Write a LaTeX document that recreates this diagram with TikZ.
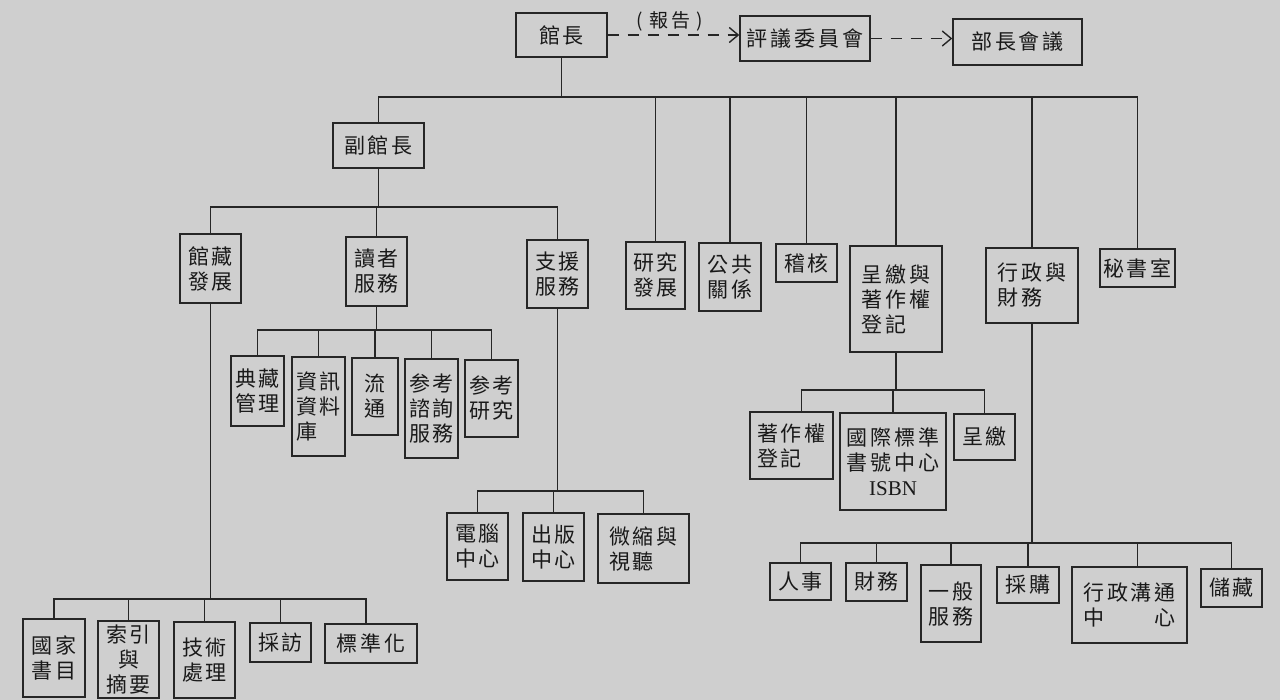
\documentclass[tikz,border=0pt]{standalone}
\usepackage{fontspec}
\setmainfont{Noto Sans CJK TC}[LetterSpace=14]
\newfontfamily\isbnfont{Liberation Serif}
\usetikzlibrary{arrows.meta}
\tikzset{
  unit/.style={draw=black!85, line width=1.4pt, inner sep=0pt, align=left,
    text=black!90, font=\fontsize{21}{25}\selectfont},
  link/.style={draw=black!85, line width=1.4pt},
  report/.style={link, dash pattern=on 11pt off 9pt,
    -{Straight Barb[length=9pt,width=15pt,line width=1.4pt]}}
}
\begin{document}
\begin{tikzpicture}[x=1pt,y=-1pt]
\useasboundingbox (0,0) rectangle (1280,700);
\fill[black!19] (0,0) rectangle (1280,700);

% top row
\node[unit, minimum width=91pt, minimum height=44pt] (gz) at (561.5,35) {館長};
\node[unit, minimum width=130pt, minimum height=45pt] (py) at (805,38.5) {評議委員會};
\node[unit, minimum width=129pt, minimum height=46pt] (bz) at (1017.5,42) {部長會議};
\node[font=\fontsize{19}{21}\selectfont, text=black!90] (bg) at (670,21) {(\,\,報告\,\,)};

% level 2
\node[unit, minimum width=91pt, minimum height=45pt] (fu) at (378.5,145.5) {副館長};
\node[unit, minimum width=59pt, minimum height=67pt] (yj) at (655.5,275.5) {研究\\發展};
\node[unit, minimum width=62pt, minimum height=68pt] (gg) at (730,277) {公共\\關係};
\node[unit, minimum width=61pt, minimum height=38pt] (jh) at (806.5,263) {稽核};
\node[unit, minimum width=92pt, minimum height=106pt] (cj) at (896,299) {呈繳與\\著作權\\登記};
\node[unit, minimum width=92pt, minimum height=75pt] (xz) at (1032,285.5) {行政與\\財務};
\node[unit, minimum width=75pt, minimum height=38pt] (ms) at (1137.5,268) {秘書室};

% under 副館長
\node[unit, minimum width=61pt, minimum height=69pt] (gc) at (210.5,268.5) {館藏\\發展};
\node[unit, minimum width=61pt, minimum height=69pt] (dz) at (376.5,271.5) {讀者\\服務};
\node[unit, minimum width=61pt, minimum height=68pt] (zy) at (557.5,274) {支援\\服務};

% under 讀者服務
\node[unit, minimum width=53pt, minimum height=70pt] (dc) at (257.5,391) {典藏\\管理};
\node[unit, minimum width=53pt, minimum height=99pt] (zx) at (318.5,406.5) {資訊\\資料\\庫};
\node[unit, minimum width=46pt, minimum height=77pt] (lt) at (375,396.5) {流\\通};
\node[unit, minimum width=53pt, minimum height=99pt] (ck) at (431.5,408.5) {参考\\諮詢\\服務};
\node[unit, minimum width=53pt, minimum height=77pt] (cy) at (491.5,398.5) {参考\\研究};

% under 支援服務
\node[unit, minimum width=61pt, minimum height=67pt] (dn) at (477.5,546.5) {電腦\\中心};
\node[unit, minimum width=61pt, minimum height=68pt] (cb) at (553.5,547) {出版\\中心};
\node[unit, minimum width=91pt, minimum height=69pt] (ws) at (643.5,548.5) {微縮與\\視聽};

% under 館藏發展
\node[unit, minimum width=62pt, minimum height=78pt] (gj) at (54,658) {國家\\書目};
\node[unit, minimum width=61pt, minimum height=77pt, align=center] (sy) at (128.5,659.5) {索引\\與\\摘要};
\node[unit, minimum width=61pt, minimum height=76pt] (js) at (204.5,660) {技術\\處理};
\node[unit, minimum width=61pt, minimum height=39pt] (cf) at (280.5,642.5) {採訪};
\node[unit, minimum width=92pt, minimum height=39pt] (bzh) at (371,643.5) {標準化};

% under 呈繳與著作權登記
\node[unit, minimum width=83pt, minimum height=67pt] (zz) at (791.5,445.5) {著作權\\登記};
\node[unit, minimum width=106pt, minimum height=97pt, align=center] (isbn) at (893,461.5) {國際標準\\書號中心\\{\isbnfont ISBN}};
\node[unit, minimum width=61pt, minimum height=46pt] (cjs) at (984.5,437) {呈繳};

% under 行政與財務
\node[unit, minimum width=61pt, minimum height=37pt] (rs) at (800.5,581.5) {人事};
\node[unit, minimum width=61pt, minimum height=38pt] (cw) at (876.5,582) {財務};
\node[unit, minimum width=60pt, minimum height=77pt] (yb) at (951,603.5) {一般\\服務};
\node[unit, minimum width=62pt, minimum height=36pt] (cg) at (1028,585) {採購};
\node[unit, minimum width=115pt, minimum height=76pt] (gt) at (1129.5,605) {行政溝通\\中　　心};
\node[unit, minimum width=61pt, minimum height=38pt] (cc) at (1231.5,588) {儲藏};

% bar levels
\coordinate (barM) at (0,97);
\coordinate (barF) at (0,207);
\coordinate (barD) at (0,330);
\coordinate (barZ) at (0,491);
\coordinate (barG) at (0,599);
\coordinate (barC) at (0,390);
\coordinate (barX) at (0,543);

% reporting arrows
\draw[report] (gz.east) -- (gz.east -| py.west);
\draw[report] (py.east) -- (py.east -| bz.west);

% tree connectors
\draw[link] (gz.south) -- (gz.south |- barM);
\foreach \k in {fu,yj,gg,jh,cj,xz,ms} \draw[link] (gz.south |- barM) -| (\k.north);

\draw[link] (fu.south) -- (fu.south |- barF);
\foreach \k in {gc,dz,zy} \draw[link] (fu.south |- barF) -| (\k.north);

\draw[link] (dz.south) -- (dz.south |- barD);
\foreach \k in {dc,zx,lt,ck,cy} \draw[link] (dz.south |- barD) -| (\k.north);

\draw[link] (zy.south) -- (zy.south |- barZ);
\foreach \k in {dn,cb,ws} \draw[link] (zy.south |- barZ) -| (\k.north);

\draw[link] (gc.south) -- (gc.south |- barG);
\foreach \k in {gj,sy,js,cf} \draw[link] (gc.south |- barG) -| (\k.north);
\draw[link] (gc.south |- barG) -| ([xshift=-5pt]bzh.north);

\draw[link] (cj.south) -- (cj.south |- barC);
\foreach \k in {isbn,cjs} \draw[link] (cj.south |- barC) -| (\k.north);
\draw[link] (cj.south |- barC) -| ([xshift=10pt]zz.north);

\draw[link] (xz.south) -- (xz.south |- barX);
\foreach \k in {rs,cw,yb,cg,cc} \draw[link] (xz.south |- barX) -| (\k.north);
\draw[link] (xz.south |- barX) -| ([xshift=8pt]gt.north);
\end{tikzpicture}
\end{document}
